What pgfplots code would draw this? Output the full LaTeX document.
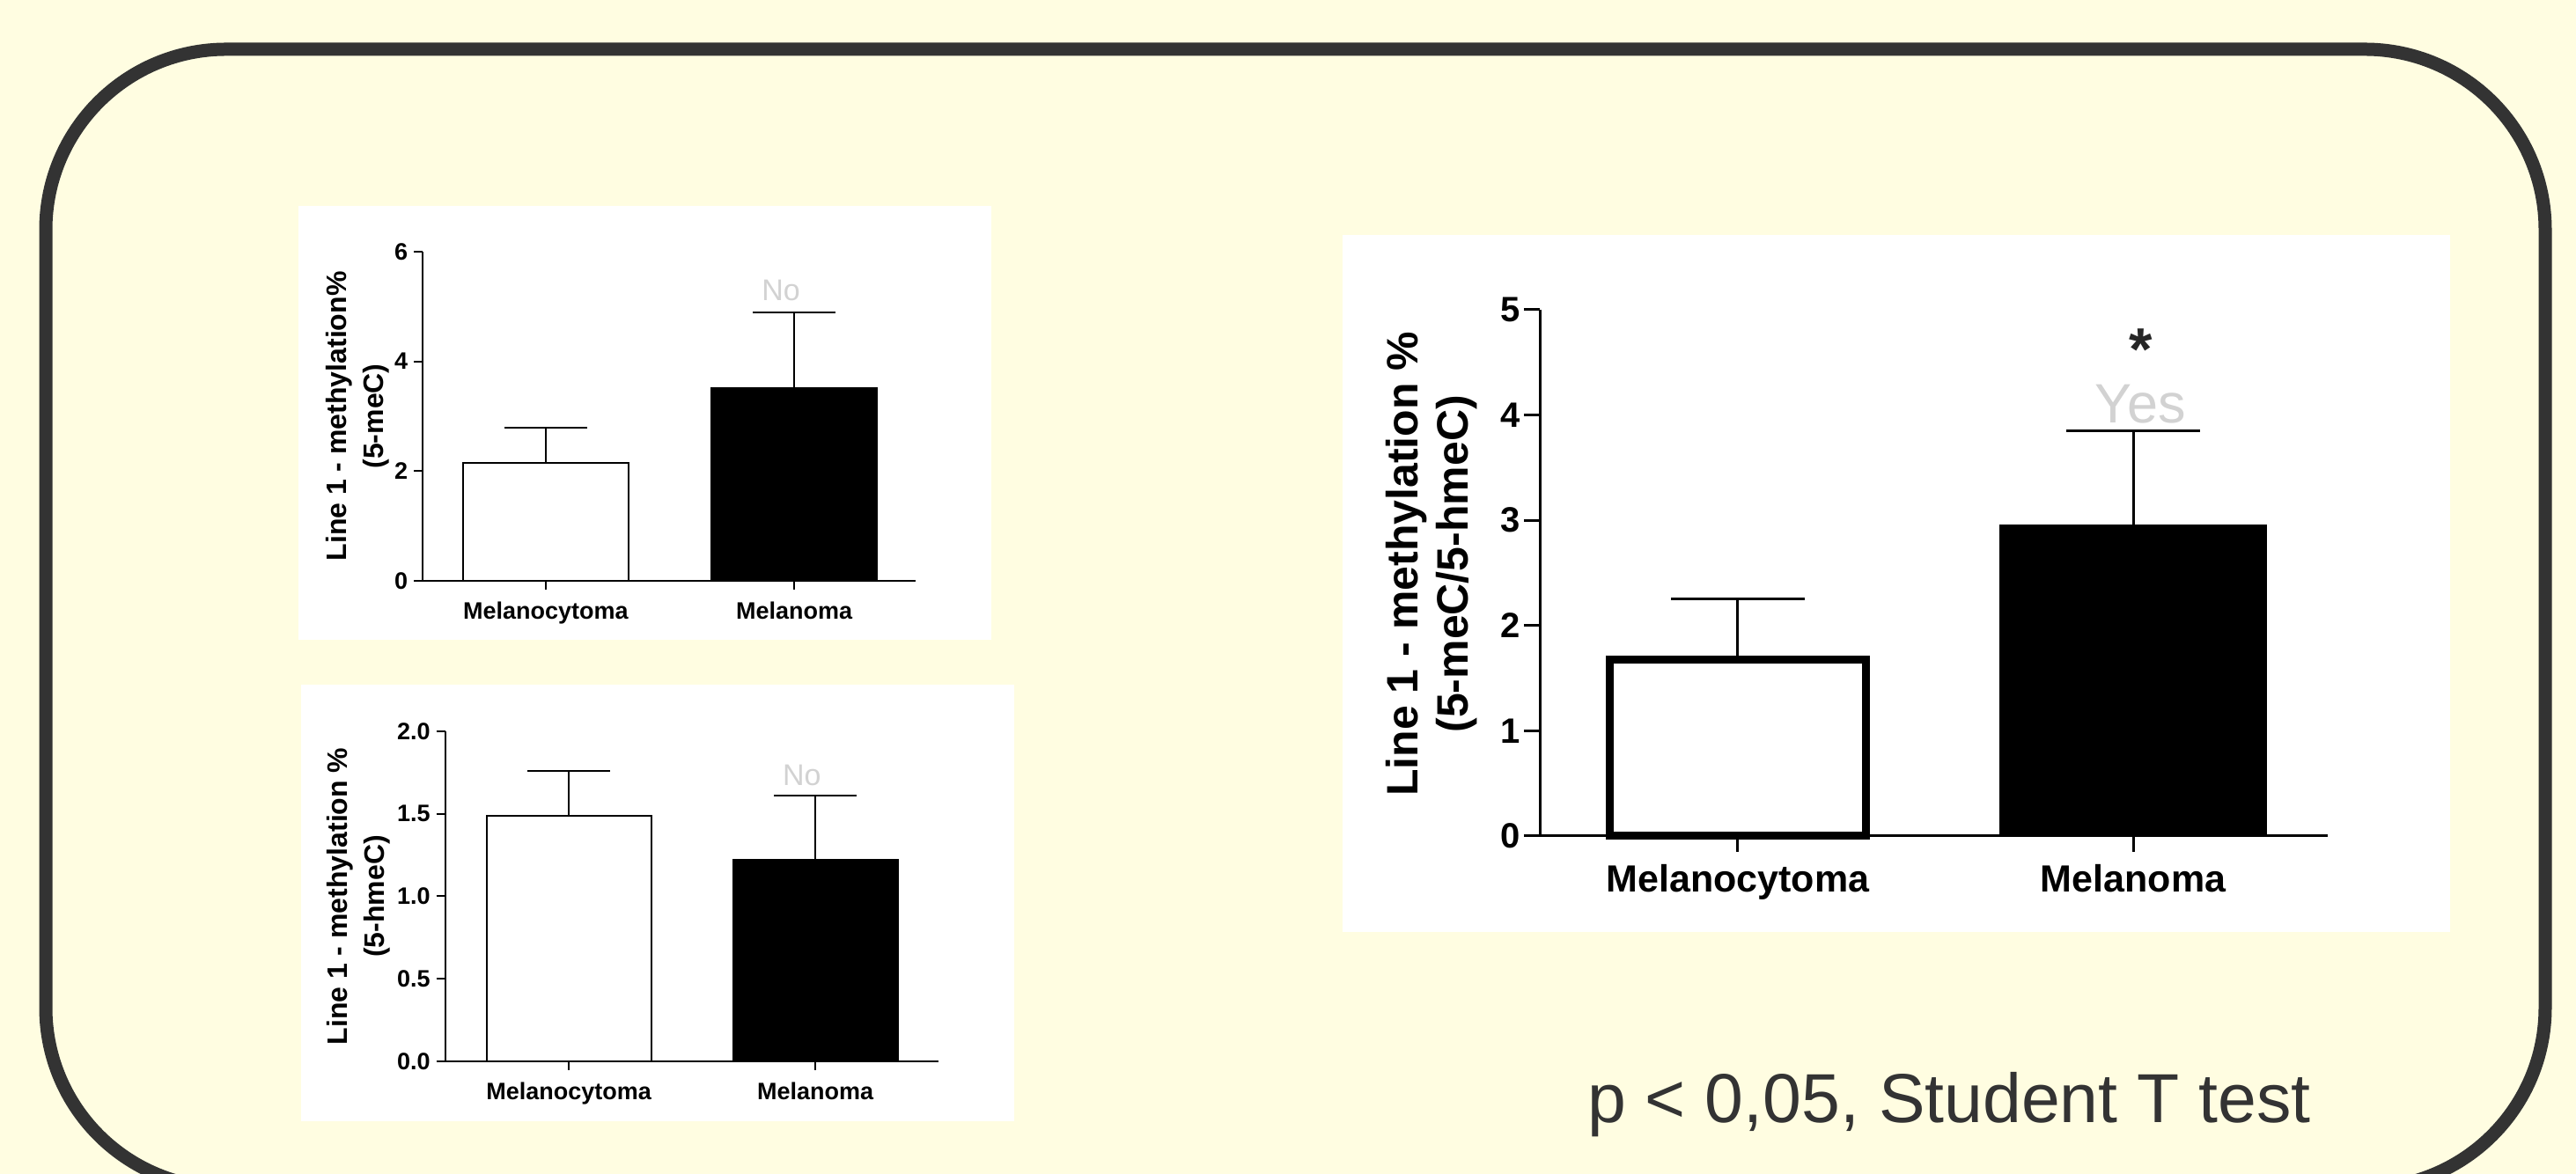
\documentclass[border=0pt]{standalone}
\usepackage{pgfplots}
\pgfplotsset{compat=1.18}
\usepackage{fontspec}
\setmainfont{Liberation Sans}
\definecolor{bg}{HTML}{FFFDE1}
\definecolor{framec}{HTML}{333333}
\definecolor{lightg}{HTML}{D2D2D2}
\definecolor{ptext}{HTML}{333333}

\pgfplotsset{
  gp/.style={
    scale only axis,
    anchor=south west,
    axis x line*=bottom,
    axis y line*=left,
    x axis line style={-},
    y axis line style={-},
    ymin=0,
    xtick={0,1},
    xticklabels={Melanocytoma,Melanoma},
    tick align=outside,
    ybar,
    bar shift=0pt,
    clip=false,
    /pgf/number format/assume math mode=true,
    error bars/y dir=plus,
    error bars/y explicit,
    every axis y label/.style={rotate=90, anchor=center, align=center},
  },
}

\begin{document}
\begin{tikzpicture}
\useasboundingbox (0,0) rectangle (731.5pt,333.5pt);
\fill[bg] (0,0) rectangle (731.5pt,333.5pt);
\begin{scope}
\clip (0,0) rectangle (731.5pt,333.5pt);
\draw[framec, line width=3.75pt, rounded corners=51.25pt] (13pt,-4pt) rectangle (722.75pt,319.5pt);
\end{scope}
\fill[white] (84.75pt,151.75pt) rectangle (281.5pt,275pt);
\fill[white] (85.5pt,15pt) rectangle (288pt,139pt);
\fill[white] (381.25pt,68.75pt) rectangle (695.75pt,266.75pt);

% Panel 1: 5-meC
\begin{axis}[gp,
  at={(120pt,168.5pt)}, width=140pt, height=93.5pt,
  xmin=-0.496, xmax=1.489, ymax=6, ytick={0,2,4,6},
  bar width=0.665,
  axis line style={line width=0.5pt},
  major tick style={line width=0.5pt, black},
  major tick length=2.5pt,
  ticklabel style={font=\bfseries\fontsize{6.75}{8}\selectfont},
  yticklabel style={xshift=1.8pt},
  ylabel={Line 1 - methylation\%\\(5-meC)},
  every axis y label/.append style={at={(axis description cs:-0.132,0.5)}, font=\bfseries\fontsize{8}{10.5}\selectfont},
]
\addplot[fill=white, draw=black, line width=0.5pt,
  error bars/error bar style={line width=0.5pt, black},
  error bars/error mark options={rotate=90, mark size=11.75pt, line width=0.5pt, black}]
  coordinates {(0,2.157) +- (0,0.629)};
\addplot[fill=black, draw=black, line width=0.5pt,
  error bars/error bar style={line width=0.5pt, black},
  error bars/error mark options={rotate=90, mark size=11.75pt, line width=0.5pt, black}]
  coordinates {(1,3.516) +- (0,1.376)};
\node[text=lightg, font=\fontsize{8.5}{10}\selectfont] at (axis cs:0.947,5.30) {No};
\end{axis}

% Panel 2: 5-hmeC
\begin{axis}[gp,
  at={(126.4pt,32pt)}, width=140.1pt, height=93.75pt,
  xmin=-0.502, xmax=1.5, ymax=2, ytick={0,0.5,1,1.5,2},
  yticklabel style={xshift=1.8pt, /pgf/number format/.cd, fixed, fixed zerofill, precision=1},
  bar width=0.668,
  axis line style={line width=0.5pt},
  major tick style={line width=0.5pt, black},
  major tick length=2.5pt,
  ticklabel style={font=\bfseries\fontsize{6.75}{8}\selectfont},
  ylabel={Line 1 - methylation \%\\(5-hmeC)},
  every axis y label/.append style={at={(axis description cs:-0.175,0.5)}, font=\bfseries\fontsize{8}{10.5}\selectfont},
]
\addplot[fill=white, draw=black, line width=0.5pt,
  error bars/error bar style={line width=0.5pt, black},
  error bars/error mark options={rotate=90, mark size=11.75pt, line width=0.5pt, black}]
  coordinates {(0,1.489) +- (0,0.270)};
\addplot[fill=black, draw=black, line width=0.5pt,
  error bars/error bar style={line width=0.5pt, black},
  error bars/error mark options={rotate=90, mark size=11.75pt, line width=0.5pt, black}]
  coordinates {(1,1.220) +- (0,0.389)};
\node[text=lightg, font=\fontsize{8.5}{10}\selectfont] at (axis cs:0.946,1.735) {No};
\end{axis}

% Panel 3: 5-meC/5-hmeC
\begin{axis}[gp,
  at={(437.25pt,96pt)}, width=223.75pt, height=149.5pt,
  xmin=-0.501, xmax=1.492, ymax=5, ytick={0,1,2,3,4,5},
  axis line style={line width=0.75pt},
  major tick style={line width=0.75pt, black},
  major tick length=4.5pt,
  yticklabel style={font=\bfseries\fontsize{10}{12}\selectfont, xshift=2.5pt},
  xticklabel style={font=\bfseries\fontsize{10.75}{13}\selectfont},
  ylabel={Line 1 - methylation \%\\(5-meC/5-hmeC)},
  every axis y label/.append style={at={(axis description cs:-0.137,0.517)}, font=\bfseries\fontsize{12.5}{14.25}\selectfont},
]
\addplot[fill=white, draw=black, line width=2.25pt, bar width=0.648,
  error bars/error bar style={line width=0.75pt, black},
  error bars/error mark options={rotate=90, mark size=18.9pt, line width=0.75pt, black}]
  coordinates {(0,1.675) +- (0,0.574)};
\addplot[fill=black, draw=black, line width=0.5pt, bar width=0.672,
  error bars/error bar style={line width=0.75pt, black},
  error bars/error mark options={rotate=90, mark size=18.9pt, line width=0.75pt, black}]
  coordinates {(1,2.950) +- (0,0.901)};
\node[text=lightg, font=\fontsize{15.75}{18}\selectfont] at (axis cs:1.018,4.10) {Yes};
\node[text=black!85, font=\bfseries\fontsize{17}{20}\selectfont] at (axis cs:1.02,4.62) {*};
\end{axis}

\node[anchor=base, text=ptext, font=\fontsize{19.7}{24}\selectfont] at (553.5pt,14.5pt) {p < 0,05, Student T test};
\end{tikzpicture}
\end{document}
